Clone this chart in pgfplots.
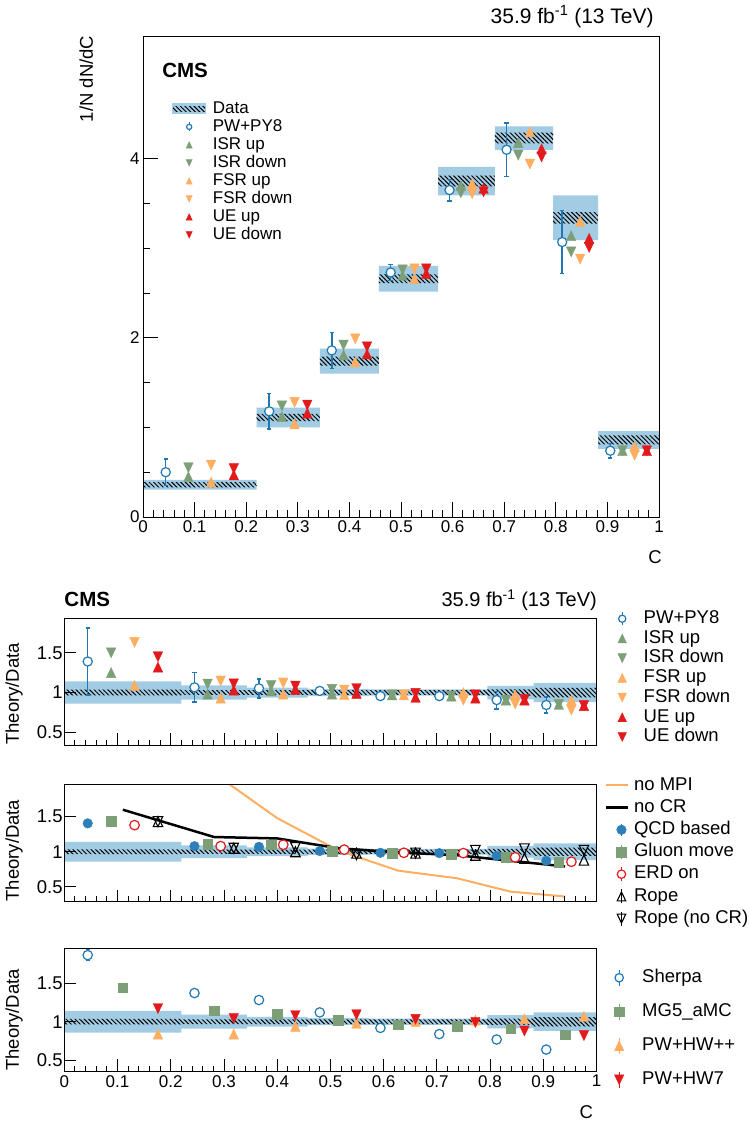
\documentclass[border=0pt]{standalone}
\usepackage{fontspec}
\setmainfont{Liberation Sans}
\usepackage{pgfplots}
\usepackage{pgfplotstable}
\pgfplotsset{compat=1.18}
\usetikzlibrary{patterns.meta}

\definecolor{band}{HTML}{A2CCE3}
\definecolor{cblue}{HTML}{1F78B4}
\definecolor{cqcd}{HTML}{2C7FB8}
\definecolor{cgreen}{HTML}{7C9F78}
\definecolor{corange}{HTML}{FDAE61}
\definecolor{cred}{HTML}{E31A1C}

\newcommand{\fs}[1]{\fontsize{#1}{#1}\selectfont}

% ROOT-like triangles, centred on their bounding box
\pgfdeclareplotmark{tup}{%
  \pgfpathmoveto{\pgfqpoint{0pt}{\pgfplotmarksize}}%
  \pgfpathlineto{\pgfqpoint{-0.95\pgfplotmarksize}{-\pgfplotmarksize}}%
  \pgfpathlineto{\pgfqpoint{0.95\pgfplotmarksize}{-\pgfplotmarksize}}%
  \pgfpathclose\pgfusepathqfillstroke}
\pgfdeclareplotmark{tdown}{%
  \pgfpathmoveto{\pgfqpoint{0pt}{-\pgfplotmarksize}}%
  \pgfpathlineto{\pgfqpoint{-0.95\pgfplotmarksize}{\pgfplotmarksize}}%
  \pgfpathlineto{\pgfqpoint{0.95\pgfplotmarksize}{\pgfplotmarksize}}%
  \pgfpathclose\pgfusepathqfillstroke}
\pgfdeclareplotmark{otup}{%
  \pgfpathmoveto{\pgfqpoint{0pt}{\pgfplotmarksize}}%
  \pgfpathlineto{\pgfqpoint{-0.95\pgfplotmarksize}{-\pgfplotmarksize}}%
  \pgfpathlineto{\pgfqpoint{0.95\pgfplotmarksize}{-\pgfplotmarksize}}%
  \pgfpathclose\pgfusepathqstroke}
\pgfdeclareplotmark{otdown}{%
  \pgfpathmoveto{\pgfqpoint{0pt}{-\pgfplotmarksize}}%
  \pgfpathlineto{\pgfqpoint{-0.95\pgfplotmarksize}{\pgfplotmarksize}}%
  \pgfpathlineto{\pgfqpoint{0.95\pgfplotmarksize}{\pgfplotmarksize}}%
  \pgfpathclose\pgfusepathqstroke}

% data boxes of the distribution, one rectangle per bin
\pgfplotstableread{
x y
0 0.305
0.22 0.305
0.22 0.415
0 0.415
nan nan
0.22 1.00
0.343 1.00
0.343 1.22
0.22 1.22
nan nan
0.343 1.60
0.457 1.60
0.457 1.88
0.343 1.88
nan nan
0.457 2.515
0.572 2.515
0.572 2.805
0.457 2.805
nan nan
0.572 3.59
0.682 3.59
0.682 3.91
0.572 3.91
nan nan
0.682 4.10
0.795 4.10
0.795 4.36
0.682 4.36
nan nan
0.795 3.09
0.882 3.09
0.882 3.59
0.795 3.59
nan nan
0.882 0.76
1 0.76
1 0.96
0.882 0.96
}\topband
\pgfplotstableread{
x y
0 0.33
0.22 0.33
0.22 0.39
0 0.39
nan nan
0.22 1.07
0.343 1.07
0.343 1.15
0.22 1.15
nan nan
0.343 1.69
0.457 1.69
0.457 1.79
0.343 1.79
nan nan
0.457 2.61
0.572 2.61
0.572 2.71
0.457 2.71
nan nan
0.572 3.69
0.682 3.69
0.682 3.81
0.572 3.81
nan nan
0.682 4.17
0.795 4.17
0.795 4.29
0.682 4.29
nan nan
0.795 3.275
0.882 3.275
0.882 3.405
0.795 3.405
nan nan
0.882 0.81
1 0.81
1 0.91
0.882 0.91
}\tophatch
% relative data uncertainty for the ratio panels (upper edge, then lower edge back)
\pgfplotstableread{
x y
0 1.14
0.22 1.14
0.22 1.09
0.343 1.09
0.343 1.063
0.457 1.063
0.457 1.045
0.572 1.045
0.572 1.04
0.682 1.04
0.682 1.04
0.795 1.04
0.795 1.085
0.882 1.085
0.882 1.12
1 1.12
1 0.88
0.882 0.88
0.882 0.915
0.795 0.915
0.795 0.96
0.682 0.96
0.682 0.96
0.572 0.96
0.572 0.955
0.457 0.955
0.457 0.937
0.343 0.937
0.343 0.91
0.22 0.91
0.22 0.86
0 0.86
}\ratioband
\pgfplotstableread{
x y
0 1.035
0.22 1.035
0.22 1.03
0.795 1.03
0.795 1.04
0.882 1.04
0.882 1.06
1 1.06
1 0.94
0.882 0.94
0.882 0.96
0.795 0.96
0.795 0.97
0.22 0.97
0.22 0.965
0 0.965
}\ratiohatch

\pgfplotsset{
  base/.style={scale only axis, anchor=south west, xmin=0, xmax=1, axis on top,
    tick align=inside, tick pos=left, xtick distance=0.1, minor x tick num=4,
    axis line style={line width=0.9pt}, every tick/.style={black, line width=0.9pt},
    /pgf/number format/assume math mode=true,
    tick label style={font=\fs{17}}, label style={font=\fs{18.5}},
    legend cell align=left},
  ratio/.style={base, width=532.2pt, ytick={0.5,1,1.5}, major tick length=12pt,
    minor tick length=5.5pt, yticklabel style={font=\fs{18.5}, inner sep=1.5pt},
    ylabel={Theory/Data},
    ylabel style={at={(axis description cs:-0.0945,0)}, anchor=west, inner sep=0pt}},
  bandfill/.style={fill=band, draw=none},
  hatchfill/.style={draw=none, pattern={Lines[angle=-45,distance=3.2pt,line width=1pt]},
    pattern color=black},
  mk/.style n args={2}{only marks, mark=#1, mark size=5pt, color=#2,
    mark options={line width=0.4pt}},
  ebar/.style={error bars/y dir=both, error bars/y explicit,
    error bars/error bar style={line width=1.5pt},
    error bars/error mark options={rotate=90, mark size=2.2pt, line width=1.5pt}},
  pw/.style={only marks, mark=*, mark size=4.6pt, color=cblue,
    mark options={fill=white, line width=1.2pt}, ebar},
  lm/.style n args={3}{legend image code/.code={%
    \path[draw=none] (0pt,-1pt) -- (#1,1pt);
    \draw[mark size=#3] plot coordinates {(#2,0pt)};}},
  lme/.style n args={4}{legend image code/.code={%
    \path[draw=none] (0pt,-1pt) -- (#1,1pt);
    \draw[solid, line width=1.3pt] (#2,-#4) -- (#2,#4);
    \draw[mark size=#3] plot coordinates {(#2,0pt)};}},
}

\begin{document}
\begin{tikzpicture}
\useasboundingbox (0pt,0pt) rectangle (749pt,-1125pt);

% ---------------- distribution
\begin{axis}[base, at={(143pt,-517pt)}, width=516pt, height=481pt,
  ymin=0, ymax=5.37, ytick={0,2,4}, minor y tick num=3,
  major tick length=15.5pt, minor tick length=7pt,
  xlabel=C, xlabel style={at={(axis description cs:1.012,-0.083)}, anchor=east},
  ylabel={1/N dN/dC}, ylabel style={at={(axis description cs:-0.110,1.008)}, anchor=east},
  legend style={at={(axis description cs:0.0562,0.866)}, anchor=north west,
    draw=none, fill=none, inner sep=0pt, row sep=1.6pt, column sep=6.7pt,
    font=\fs{17}, nodes={inner sep=0pt, text height=12.4pt, text depth=4pt}},
  extra description/.code={
    \node[anchor=base west, inner sep=0pt, font=\fs{20.5}\bfseries] at (0.037,0.914) {CMS};
    \node[anchor=base east, inner sep=0pt, font=\fs{21}] at (0.99,1.026) {35.9 fb\textsuperscript{-1} (13 TeV)};
  }]
\addplot[bandfill, unbounded coords=jump, legend image code/.code={
    \fill[band] (0pt,-5.5pt) rectangle (34pt,5.5pt);
    \fill[pattern={Lines[angle=-45,distance=3.2pt,line width=1pt]}] (1pt,-2.5pt) rectangle (33pt,2.5pt);}]
  table {\topband};
\addlegendentry{Data}
\addplot[hatchfill, unbounded coords=jump, forget plot] table {\tophatch};
\addplot[pw, lme={34pt}{17pt}{2.6pt}{4.5pt}] coordinates {
  (0.044,0.50) +- (0,0.15) (0.2446,1.18) +- (0,0.20) (0.3658,1.86) +- (0,0.20)
  (0.480,2.73) +- (0,0.09) (0.594,3.65) +- (0,0.12) (0.7046,4.10) +- (0,0.30)
  (0.8124,3.07) +- (0,0.35) (0.9056,0.74) +- (0,0.08)};
\addlegendentry{PW+PY8}
\addplot[mk={tup}{cgreen}, lm={34pt}{17pt}{3.2pt}] coordinates {
  (0.088,0.45) (0.2692,1.12) (0.3886,1.81) (0.503,2.70) (0.616,3.70) (0.7272,4.18) (0.8298,3.14) (0.9292,0.74)};
\addlegendentry{ISR up}
\addplot[mk={tdown}{cgreen}, lm={34pt}{17pt}{3.2pt}] coordinates {
  (0.088,0.55) (0.2692,1.24) (0.3886,1.92) (0.503,2.76) (0.616,3.62) (0.7272,4.04) (0.8298,2.96) (0.9292,0.74)};
\addlegendentry{ISR down}
\addplot[mk={tup}{corange}, lm={34pt}{17pt}{3.2pt}] coordinates {
  (0.132,0.39) (0.2938,1.04) (0.4114,1.73) (0.526,2.66) (0.638,3.72) (0.7498,4.30) (0.8472,3.30) (0.9528,0.79)};
\addlegendentry{FSR up}
\addplot[mk={tdown}{corange}, lm={34pt}{17pt}{3.2pt}] coordinates {
  (0.132,0.58) (0.2938,1.28) (0.4114,1.99) (0.526,2.77) (0.638,3.61) (0.7498,3.94) (0.8472,2.88) (0.9528,0.69)};
\addlegendentry{FSR down}
\addplot[mk={tup}{cred}, lm={34pt}{17pt}{3.2pt}] coordinates {
  (0.176,0.47) (0.3184,1.16) (0.4342,1.82) (0.549,2.72) (0.660,3.67) (0.7724,4.11) (0.8646,3.11) (0.9764,0.74)};
\addlegendentry{UE up}
\addplot[mk={tdown}{cred}, lm={34pt}{17pt}{3.2pt}] coordinates {
  (0.176,0.54) (0.3184,1.25) (0.4342,1.90) (0.549,2.77) (0.660,3.63) (0.7724,4.02) (0.8646,3.01) (0.9764,0.74)};
\addlegendentry{UE down}
\end{axis}

% ---------------- ratio: PW+PY8 variations
\begin{axis}[ratio, at={(64.3pt,-745pt)}, height=127pt, ymin=0.34, ymax=1.937,
  xticklabels={},
  legend style={at={(axis description cs:1.0273,1.0646)}, anchor=north west,
    draw=none, fill=none, inner sep=0pt, row sep=2.2pt, column sep=10.5pt,
    font=\fs{18.5}, nodes={inner sep=0pt, text height=13.5pt, text depth=4pt}},
  extra description/.code={
    \node[anchor=base west, inner sep=0pt, font=\fs{20.5}\bfseries] at (0,1.087) {CMS};
    \node[anchor=base east, inner sep=0pt, font=\fs{20}] at (1.001,1.087) {35.9 fb\textsuperscript{-1} (13 TeV)};
  }]
\addplot[bandfill, forget plot] table {\ratioband} -- cycle;
\addplot[hatchfill, forget plot] table {\ratiohatch} -- cycle;
\addplot[pw, lme={22pt}{11pt}{3.6pt}{6.5pt}] coordinates {
  (0.044,1.39) +- (0,0.42) (0.2446,1.065) +- (0,0.185) (0.3658,1.053) +- (0,0.12)
  (0.480,1.02) +- (0,0.02) (0.594,0.955) +- (0,0.02) (0.7046,0.955) +- (0,0.03)
  (0.8124,0.905) +- (0,0.11) (0.9056,0.843) +- (0,0.10)};
\addlegendentry{PW+PY8}
\addplot[mk={tup}{cgreen}, lm={22pt}{11pt}{4.5pt}] coordinates {
  (0.088,1.25) (0.2692,0.98) (0.3886,1.02) (0.503,0.98) (0.616,0.97) (0.7272,0.955) (0.8298,0.905) (0.9292,0.85)};
\addlegendentry{ISR up}
\addplot[mk={tdown}{cgreen}, lm={22pt}{11pt}{4.5pt}] coordinates {
  (0.088,1.50) (0.2692,1.107) (0.3886,1.086) (0.503,1.04) (0.616,0.97) (0.7272,0.955) (0.8298,0.905) (0.9292,0.85)};
\addlegendentry{ISR down}
\addplot[mk={tup}{corange}, lm={22pt}{11pt}{4.5pt}] coordinates {
  (0.132,1.09) (0.2938,0.93) (0.4114,0.98) (0.526,0.975) (0.638,0.97) (0.7498,1.0) (0.8472,0.97) (0.9528,0.905)};
\addlegendentry{FSR up}
\addplot[mk={tdown}{corange}, lm={22pt}{11pt}{4.5pt}] coordinates {
  (0.132,1.63) (0.2938,1.145) (0.4114,1.12) (0.526,1.03) (0.638,0.97) (0.7498,0.905) (0.8472,0.855) (0.9528,0.78)};
\addlegendentry{FSR down}
\addplot[mk={tup}{cred}, lm={22pt}{11pt}{4.5pt}] coordinates {
  (0.176,1.32) (0.3184,1.03) (0.4342,1.04) (0.549,0.99) (0.660,0.94) (0.7724,0.93) (0.8646,0.905) (0.9764,0.835)};
\addlegendentry{UE up}
\addplot[mk={tdown}{cred}, lm={22pt}{11pt}{4.5pt}] coordinates {
  (0.176,1.45) (0.3184,1.11) (0.4342,1.08) (0.549,1.05) (0.660,0.99) (0.7724,0.97) (0.8646,0.91) (0.9764,0.835)};
\addlegendentry{UE down}
\end{axis}

% ---------------- ratio: colour reconnection / MPI models
\begin{axis}[ratio, at={(64.3pt,-901.7pt)}, height=117.4pt, ymin=0.286, ymax=1.963,
  xticklabels={},
  legend style={at={(axis description cs:1.016,1.067)}, anchor=north west,
    draw=none, fill=none, inner sep=0pt, row sep=4.7pt, column sep=1.6pt,
    font=\fs{18.5}, nodes={inner sep=0pt, text height=13.5pt, text depth=4pt}}]
\addplot[bandfill, forget plot] table {\ratioband} -- cycle;
\addplot[hatchfill, forget plot] table {\ratiohatch} -- cycle;
\addplot[corange, line width=2pt, legend image code/.code={\draw (0pt,0pt) -- (22pt,0pt);}]
  coordinates {(0.11,2.8) (0.2815,2.12) (0.40,1.48) (0.5145,1.02) (0.627,0.73) (0.7385,0.62) (0.8385,0.43) (0.941,0.36)};
\addlegendentry{no MPI}
\addplot[black, line width=2.5pt, legend image code/.code={\draw (0pt,0pt) -- (22pt,0pt);}]
  coordinates {(0.11,1.60) (0.2815,1.21) (0.40,1.19) (0.5145,1.05) (0.627,0.99) (0.7385,0.95) (0.8385,0.87) (0.941,0.79)};
\addlegendentry{no CR}
\addplot[only marks, mark=*, mark size=4.8pt, color=cqcd, lme={26pt}{15pt}{4.8pt}{6pt}] coordinates {
  (0.044,1.405) (0.2446,1.08) (0.3658,1.07) (0.480,1.01) (0.594,0.985) (0.7046,0.98) (0.8124,0.94) (0.9056,0.87)};
\addlegendentry{QCD based}
\addplot[only marks, mark=square*, mark size=4.8pt, color=cgreen, lme={26pt}{15pt}{4.8pt}{7pt}] coordinates {
  (0.088,1.44) (0.2692,1.11) (0.3886,1.10) (0.503,1.01) (0.616,0.98) (0.7272,0.967) (0.8298,0.92) (0.9292,0.85)};
\addlegendentry{Gluon move}
\addplot[only marks, mark=*, mark size=4.8pt, color=cred, mark options={fill=white, line width=1.2pt}, lme={26pt}{15pt}{4.2pt}{7pt}] coordinates {
  (0.132,1.38) (0.2938,1.08) (0.4114,1.10) (0.526,1.03) (0.638,0.985) (0.7498,0.98) (0.8472,0.92) (0.9528,0.857)};
\addlegendentry{ERD on}
\addplot[only marks, mark=otup, mark size=5pt, color=black, mark options={line width=1.1pt}, lme={26pt}{15pt}{4.5pt}{7pt}] coordinates {
  (0.176,1.43) (0.3184,1.05) (0.4342,1.0) (0.549,0.98) (0.660,0.98) (0.7724,0.95) (0.8646,0.905) (0.9764,0.88)};
\addlegendentry{Rope}
\addplot[only marks, mark=otdown, mark size=5pt, color=black, mark options={line width=1.1pt}, lme={26pt}{15pt}{4.5pt}{7pt}] coordinates {
  (0.176,1.43) (0.3184,1.05) (0.4342,1.06) (0.549,0.96) (0.660,0.98) (0.7724,1.02) (0.8646,1.04) (0.9764,1.02)};
\addlegendentry{Rope (no CR)}
\end{axis}

% ---------------- ratio: other generators
\begin{axis}[ratio, at={(64.3pt,-1071pt)}, height=122.7pt, ymin=0.363, ymax=1.948,
  xticklabel style={inner sep=4pt},
  xlabel=C, xlabel style={at={(axis description cs:1.0,-0.334)}, anchor=east},
  legend style={at={(axis description cs:1.0216,0.833)}, anchor=north west,
    draw=none, fill=none, inner sep=0pt, row sep=16.5pt, column sep=12pt,
    font=\fs{18.5}, nodes={inner sep=0pt, text height=13.5pt, text depth=4pt}}]
\addplot[bandfill, forget plot] table {\ratioband} -- cycle;
\addplot[hatchfill, forget plot] table {\ratiohatch} -- cycle;
\addplot[only marks, mark=*, mark size=4.7pt, color=cblue, mark options={fill=white, line width=1.2pt},
  ebar, lme={22pt}{11pt}{4.2pt}{8pt}]
  coordinates {(0.044,1.86) +- (0,0.07) (0.2446,1.37) +- (0,0) (0.3658,1.28) +- (0,0) (0.480,1.12) +- (0,0)
  (0.594,0.92) +- (0,0) (0.7046,0.84) +- (0,0) (0.8124,0.77) +- (0,0) (0.9056,0.64) +- (0,0)};
\addlegendentry{Sherpa}
\addplot[only marks, mark=square*, mark size=4.8pt, color=cgreen, lme={22pt}{11pt}{4.8pt}{8pt}] coordinates {
  (0.110,1.44) (0.2815,1.14) (0.400,1.10) (0.5145,1.02) (0.627,0.96) (0.7385,0.94) (0.8385,0.91) (0.941,0.83)};
\addlegendentry{MG5\_aMC}
\addplot[mk={tup}{corange}, lme={22pt}{11pt}{5pt}{8pt}] coordinates {
  (0.176,0.84) (0.3184,0.84) (0.4342,0.94) (0.549,0.98) (0.660,1.0) (0.7724,1.02) (0.8646,1.04) (0.9764,1.07)};
\addlegendentry{PW+HW++}
\addplot[mk={tdown}{cred}, lme={22pt}{11pt}{5pt}{8pt}] coordinates {
  (0.176,1.17) (0.3184,1.04) (0.4342,1.08) (0.549,1.09) (0.660,1.03) (0.7724,0.99) (0.8646,0.88) (0.9764,0.82)};
\addlegendentry{PW+HW7}
\end{axis}
\end{tikzpicture}
\end{document}
